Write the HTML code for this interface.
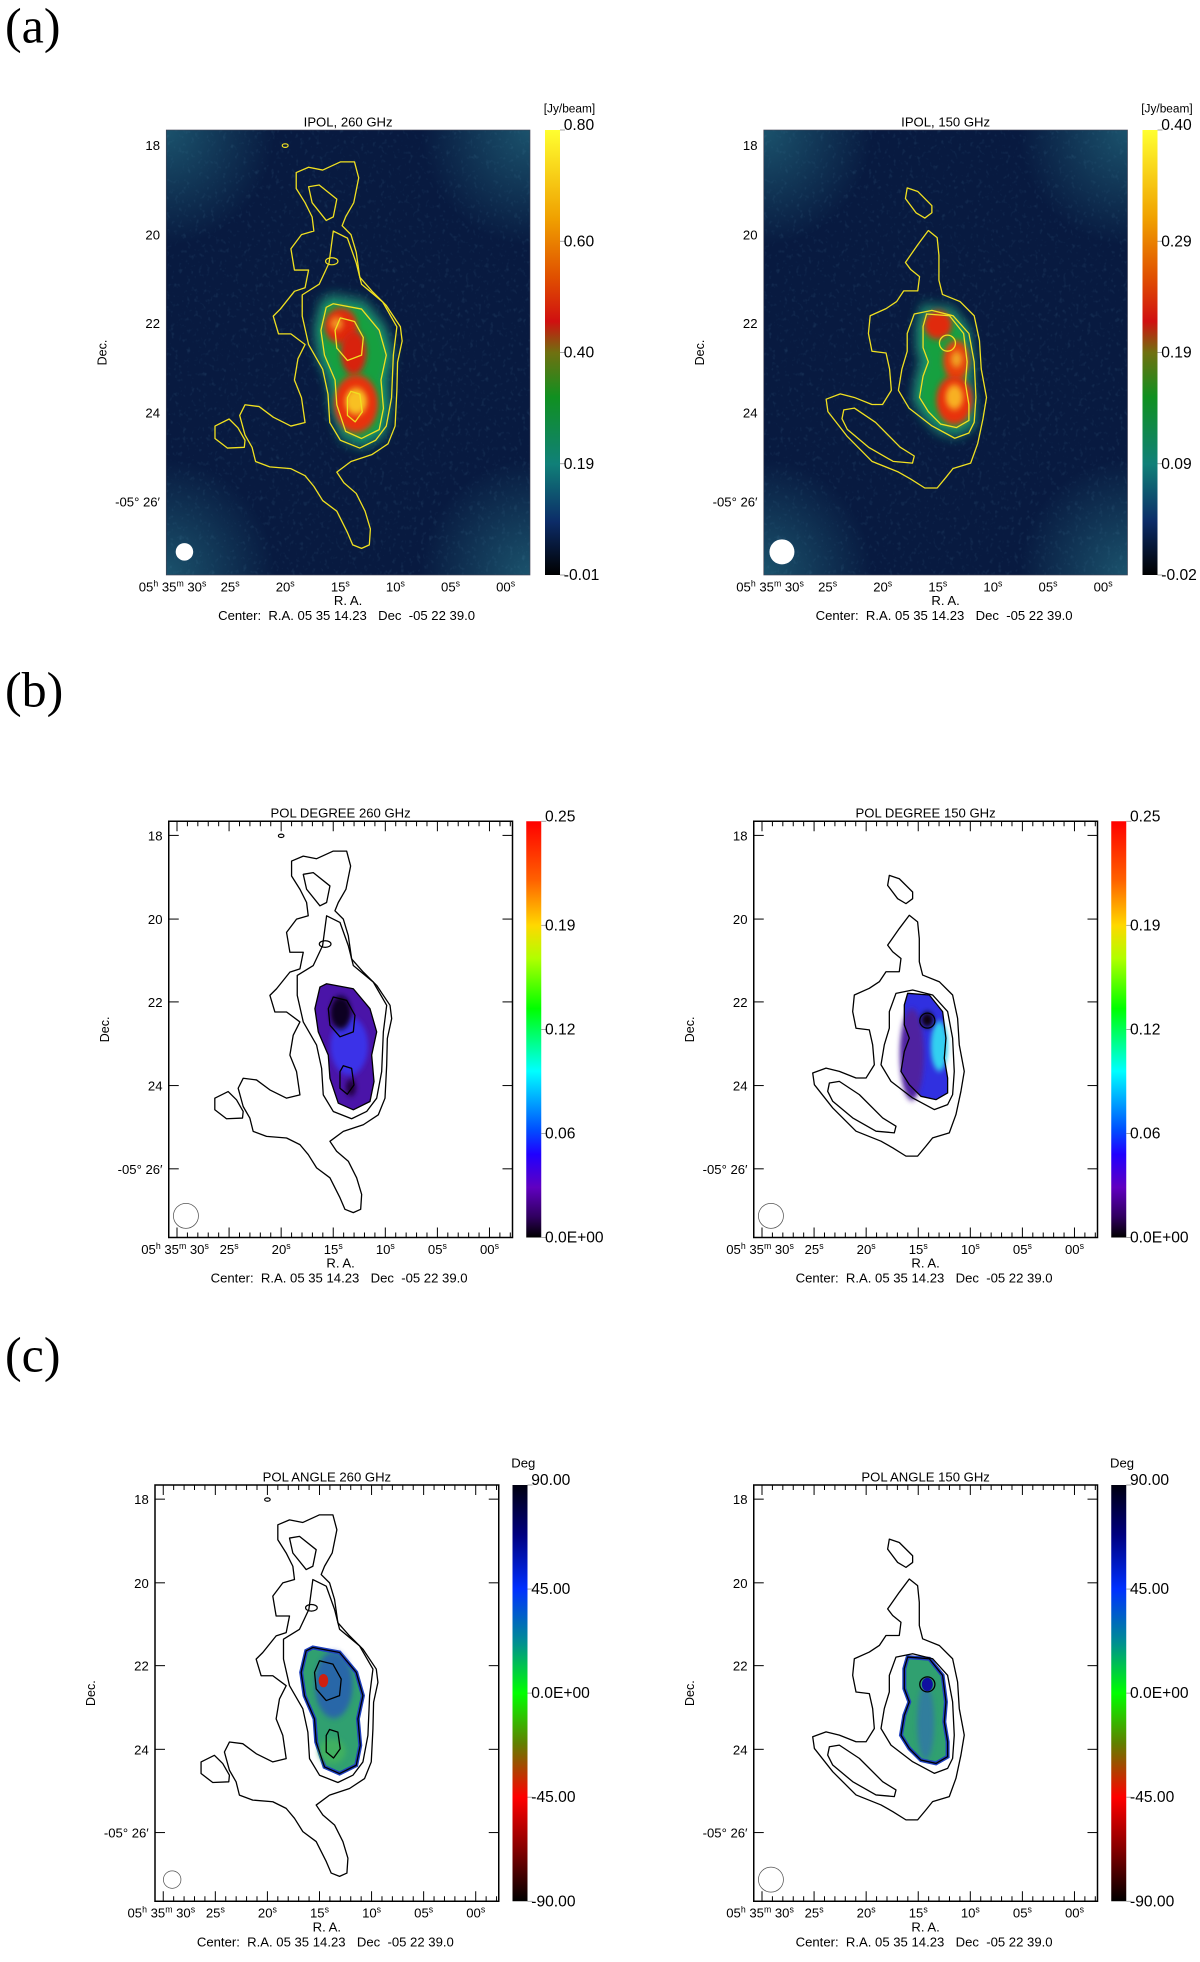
<!DOCTYPE html>
<html><head><meta charset="utf-8"><title>Polarization maps</title>
<style>
html,body{margin:0;padding:0;background:#fff;}
svg{display:block;font-family:"Liberation Sans",Arial,sans-serif;}
</style></head>
<body>
<svg id="fig" xmlns="http://www.w3.org/2000/svg" width="1200" height="1962" viewBox="0 0 960 1569.6">
<defs>
<linearGradient id="cbA" x1="0" y1="0" x2="0" y2="1">
<stop offset="0" stop-color="#ffff30"/><stop offset="0.2" stop-color="#f0a000"/><stop offset="0.33" stop-color="#e05000"/><stop offset="0.43" stop-color="#d01010"/><stop offset="0.5" stop-color="#707010"/><stop offset="0.6" stop-color="#109020"/><stop offset="0.75" stop-color="#108078"/><stop offset="0.88" stop-color="#0c2c68"/><stop offset="1" stop-color="#000000"/>
</linearGradient>
<linearGradient id="cbB" x1="0" y1="0" x2="0" y2="1">
<stop offset="0" stop-color="#ff0000"/><stop offset="0.14" stop-color="#ff6000"/><stop offset="0.25" stop-color="#ffd800"/><stop offset="0.33" stop-color="#b0ff00"/><stop offset="0.45" stop-color="#00ff00"/><stop offset="0.6" stop-color="#00ffff"/><stop offset="0.74" stop-color="#0050ff"/><stop offset="0.8" stop-color="#2000ff"/><stop offset="0.88" stop-color="#6000c0"/><stop offset="0.95" stop-color="#300060"/><stop offset="1" stop-color="#000000"/>
</linearGradient>
<linearGradient id="cbC" x1="0" y1="0" x2="0" y2="1">
<stop offset="0" stop-color="#000010"/><stop offset="0.12" stop-color="#000080"/><stop offset="0.25" stop-color="#0030ff"/><stop offset="0.38" stop-color="#009090"/><stop offset="0.5" stop-color="#00ff00"/><stop offset="0.62" stop-color="#608000"/><stop offset="0.75" stop-color="#ff0000"/><stop offset="0.88" stop-color="#800000"/><stop offset="1" stop-color="#000000"/>
</linearGradient>
<radialGradient id="cornerGlow" cx="0.5" cy="0.5" r="0.5">
<stop offset="0" stop-color="#2a8090" stop-opacity="0.55"/><stop offset="1" stop-color="#2a8090" stop-opacity="0"/>
</radialGradient>
<filter id="blur8" x="-50%" y="-50%" width="200%" height="200%"><feGaussianBlur stdDeviation="14"/></filter>
<filter id="blur4" x="-50%" y="-50%" width="200%" height="200%"><feGaussianBlur stdDeviation="7"/></filter>
<filter id="noise"><feTurbulence type="fractalNoise" baseFrequency="0.09" numOctaves="2" seed="3"/><feColorMatrix values="0 0 0 0 0.1  0 0 0 0 0.3  0 0 0 0 0.45  0 0 0 1.4 -0.8"/></filter>
</defs>

<text x="4" y="34" font-family="Liberation Serif,serif" font-size="40">(a)</text>
<text x="4" y="565" font-family="Liberation Serif,serif" font-size="40">(b)</text>
<text x="4" y="1097" font-family="Liberation Serif,serif" font-size="40">(c)</text>
<g id="panels"></g>
</svg>
<script>
// ---- data ----
const decTickLabels = ['18','20','22','24','-05\u00b0 26\u2032'];
const decTickFrac = [0.034, 0.235, 0.434, 0.635, 0.835];
const raTickLabels = ['30','25','20','15','10','05','00'];
const raFirstFrac = 0.024, raStepFrac = 0.1515;
const cbLabelsIpol260 = ['0.80','0.60','0.40','0.19','-0.01'];
const cbLabelsIpol150 = ['0.40','0.29','0.19','0.09','-0.02'];
const cbLabelsPol = ['0.25','0.19','0.12','0.06','0.0E+00'];
const cbLabelsAng = ['90.00','45.00','0.0E+00','-45.00','-90.00'];

const outer260 = [[575,245],[610,230],[650,238],[700,215],[740,215],[752,260],[738,330],[715,370],[705,395],[730,420],[745,470],[755,540],[790,580],[830,620],[870,680],[875,720],[862,780],[860,860],[855,960],[835,1010],[790,1040],[730,1060],[690,1090],[710,1120],[745,1150],[770,1200],[785,1250],[782,1295],[760,1305],[735,1295],[720,1260],[690,1200],[650,1170],[625,1130],[600,1100],[560,1080],[500,1075],[460,1060],[450,1020],[430,985],[415,930],[430,900],[470,905],[510,935],[560,960],[600,950],[590,880],[570,830],[580,770],[600,730],[560,700],[525,700],[510,650],[530,630],[570,580],[600,570],[610,520],[570,520],[560,460],[590,420],[625,410],[620,370],[600,330],[575,290]];
const hole260 = [[610,285],[640,280],[690,320],[680,370],[660,380],[620,330]];
const arm260 = [[345,960],[385,940],[410,965],[430,1000],[428,1020],[380,1022],[345,995]];
const c2_260 = [[680,410],[720,430],[745,500],[760,560],[820,610],[860,680],[850,760],[845,880],[830,960],[800,1000],[755,1022],[700,1000],[670,950],[665,870],[650,800],[610,730],[592,650],[592,590],[640,560],[668,500]];
const core260 = [[680,615],[760,630],[810,690],[830,760],[815,830],[822,910],[810,970],[760,995],[715,975],[690,900],[685,830],[655,760],[645,690],[660,625]];
const c4_260 = [[700,655],[740,665],[765,710],[760,760],[720,775],[690,740],[685,690]];
const c5_260 = [[730,862],[755,870],[762,920],[742,948],[720,930],[720,880]];
const outer150 = [[630,350],[655,370],[660,420],[660,490],[670,530],[720,550],[760,590],[775,660],[780,740],[795,820],[785,880],[770,950],[750,1005],[700,1020],[680,1045],[655,1075],[620,1075],[580,1050],[545,1030],[470,1000],[400,930],[345,860],[340,825],[380,810],[420,820],[470,840],[500,840],[525,800],[520,740],[510,695],[470,690],[460,640],[465,590],[510,570],[540,550],[560,520],[600,520],[605,480],[580,460],[565,440],[600,390]];
const arm150 = [[390,855],[420,850],[480,890],[550,960],[590,985],[585,1005],[530,1000],[460,960],[400,910],[385,880]];
const c2_150 = [[590,585],[640,575],[700,590],[745,640],[760,720],[765,820],[760,890],[745,920],[705,935],[640,900],[575,850],[545,800],[555,740],[570,690],[570,640]];
const core150 = [[625,585],[690,590],[730,640],[740,720],[735,780],[745,840],[745,885],[710,905],[665,895],[630,860],[605,820],[615,760],[630,720],[615,680],[615,620]];
const top150 = [[570,230],[600,240],[640,280],[640,300],[620,315],[595,300],[565,260]];

const NS = 'http://www.w3.org/2000/svg';
function mk(tag, attrs, parent){const e=document.createElementNS(NS,tag);for(const k in attrs)e.setAttribute(k,attrs[k]);if(parent)parent.appendChild(e);return e;}
function n260(p){return [(p[0]-207)/1030*1000,(p[1]-125)/1255*1000];}
function n150(p){return [(p[0]-163)/1032*1000,(p[1]-67)/1253*1000];}
function pathD(pts,f){return pts.map((p,i)=>{const q=f(p);return (i?'L':'M')+q[0].toFixed(1)+','+q[1].toFixed(1);}).join('')+'Z';}

const panels = [
 {bx:133,by:104,bw:291,bh:356,cbx:436,title:'IPOL, 260 GHz',unit:'[Jy/beam]',cb:'cbA',lab:cbLabelsIpol260,shape:260,mode:'ipol',beam:7,name:'ipol-260'},
 {bx:611,by:104,bw:291,bh:356,cbx:914,title:'IPOL, 150 GHz',unit:'[Jy/beam]',cb:'cbA',lab:cbLabelsIpol150,shape:150,mode:'ipol',beam:10,name:'ipol-150'},
 {bx:135,by:657,bw:275,bh:333,cbx:421,title:'POL DEGREE 260 GHz',unit:'',cb:'cbB',lab:cbLabelsPol,shape:260,mode:'pol',beam:10,name:'pol-degree-260'},
 {bx:603,by:657,bw:275,bh:333,cbx:889,title:'POL DEGREE 150 GHz',unit:'',cb:'cbB',lab:cbLabelsPol,shape:150,mode:'pol',beam:10,name:'pol-degree-150'},
 {bx:124,by:1188,bw:275,bh:333,cbx:410,title:'POL ANGLE 260 GHz',unit:'Deg',cb:'cbC',lab:cbLabelsAng,shape:260,mode:'ang',beam:7,name:'pol-angle-260'},
 {bx:603,by:1188,bw:275,bh:333,cbx:889,title:'POL ANGLE 150 GHz',unit:'Deg',cb:'cbC',lab:cbLabelsAng,shape:150,mode:'ang',beam:10,name:'pol-angle-150'}
];

const root=document.getElementById('panels');
panels.forEach(P=>{
 const g=mk('g',{},root);
 
 
 const f = P.shape===260?n260:n150;
 const ipol = P.mode==='ipol';
 const img=mk('svg',{x:P.bx,y:P.by,width:P.bw,height:P.bh,viewBox:'0 0 1000 1000',preserveAspectRatio:'none'},g);
 
 
 if(ipol){
  mk('rect',{x:0,y:0,width:1000,height:1000,fill:'#081a40'},img);
  [[0,0],[1000,0],[0,1000],[1000,1000]].forEach(c=>mk('ellipse',{cx:c[0],cy:c[1],rx:300,ry:260,fill:'url(#cornerGlow)'},img));
  mk('rect',{x:0,y:0,width:1000,height:1000,filter:'url(#noise)',opacity:0.35},img);
 } else {
  mk('rect',{x:0,y:0,width:1000,height:1000,fill:'#ffffff'},img);
 }
 const core = P.shape===260?core260:core150;
 const coreD = pathD(core,f);
 if(ipol){
  mk('path',{d:coreD,fill:'#1a8a70',stroke:'#1a8a70','stroke-width':40,filter:'url(#blur8)'},img);
  mk('path',{d:coreD,fill:'#18a040',filter:'url(#blur4)'},img);
  const blobs = P.shape===260
   ? [[480,440,45,40,'#e02a10'],[515,500,35,50,'#d82010'],[522,615,60,65,'#e83010'],[522,610,30,30,'#f8c020'],[468,435,18,15,'#f09020']]
   : [[479,438,38,32,'#e02a10'],[529,518,36,45,'#e84010'],[524,607,50,55,'#e83010'],[524,600,24,28,'#f8b020'],[530,515,16,18,'#f0a020']];
  blobs.forEach(b=>mk('ellipse',{cx:b[0],cy:b[1],rx:b[2],ry:b[3],fill:b[4],filter:'url(#blur4)'},img));
 } else if(P.mode==='pol'){
  mk('path',{d:coreD,fill:P.shape===260?'#4a14a8':'#3030e0'},img);
  if(P.shape===260){
   mk('ellipse',{cx:525,cy:540,rx:55,ry:70,fill:'#3a30e8',filter:'url(#blur4)'},img);
   mk('ellipse',{cx:500,cy:460,rx:30,ry:40,fill:'#100020',filter:'url(#blur4)'},img);
   mk('ellipse',{cx:530,cy:640,rx:15,ry:20,fill:'#200040',filter:'url(#blur4)'},img);
  } else {
   mk('ellipse',{cx:460,cy:560,rx:35,ry:110,fill:'#5020a0',filter:'url(#blur4)'},img);
   mk('ellipse',{cx:540,cy:540,rx:25,ry:60,fill:'#30d0f0',filter:'url(#blur4)'},img);
   mk('ellipse',{cx:505,cy:477,rx:18,ry:18,fill:'#100010',filter:'url(#blur4)'},img);
  }
 } else {
  mk('path',{d:coreD,fill:'#30a070',stroke:'#1f40c0','stroke-width':4,'vector-effect':'non-scaling-stroke'},img);
  if(P.shape===260){
   mk('ellipse',{cx:520,cy:480,rx:55,ry:80,fill:'#2850c0',opacity:0.7,filter:'url(#blur4)'},img);
   mk('ellipse',{cx:490,cy:470,rx:14,ry:16,fill:'#d02010'},img);
   mk('ellipse',{cx:515,cy:640,rx:40,ry:30,fill:'#40b060',filter:'url(#blur4)'},img);
  } else {
   mk('ellipse',{cx:500,cy:570,rx:25,ry:90,fill:'#3070b0',opacity:0.7,filter:'url(#blur4)'},img);
   mk('circle',{cx:505,cy:479,r:16,fill:'#1010a0'},img);
  }
 }
 const col = ipol?'#f0e020':'#000000';
 const list = P.shape===260?[outer260,hole260,arm260,c2_260,core260,c4_260,c5_260]:[outer150,arm150,c2_150,core150,top150];
 list.forEach((c,i)=>{
  const p=mk('path',{d:pathD(c,f),fill:'none',stroke:col,'stroke-width':1.3,'vector-effect':'non-scaling-stroke','stroke-linejoin':'round'},img);
  
  
 });
 if(P.shape===260){
  mk('ellipse',{cx:327,cy:35,rx:8,ry:4,fill:'none',stroke:col,'stroke-width':1.2,'vector-effect':'non-scaling-stroke'},img);
  mk('ellipse',{cx:455,cy:295,rx:17,ry:8,fill:'none',stroke:col,'stroke-width':1.2,'vector-effect':'non-scaling-stroke'},img);
 } else {
  mk('ellipse',{cx:505,cy:479,rx:22,ry:18,fill:'none',stroke:col,'stroke-width':1.3,'vector-effect':'non-scaling-stroke'},img);
 }
 const beam=mk('ellipse',{cx:P.bx+0.05*P.bw,cy:P.by+0.948*P.bh,rx:P.beam,ry:P.beam,fill:ipol?'#ffffff':'none',stroke:ipol?'none':'#555','stroke-width':0.6},g);
 
 
 mk('rect',{x:P.bx,y:P.by,width:P.bw,height:P.bh,fill:'none',stroke:ipol?'#445':'#000','stroke-width':ipol?0.5:1.2},g);
 if(!ipol){
  for(let k=-1;k<=33;k++){
   const fr=raFirstFrac+k*raStepFrac/5; if(fr<0.005||fr>0.995) continue;
   const x=P.bx+fr*P.bw, major=(k%5===0), L=major?8:4;
   mk('line',{x1:x,y1:P.by+P.bh,x2:x,y2:P.by+P.bh-L,stroke:'#000','stroke-width':0.8},g);
   mk('line',{x1:x,y1:P.by,x2:x,y2:P.by+L,stroke:'#000','stroke-width':0.8},g);
  }
  decTickFrac.forEach(fr=>{const y=P.by+fr*P.bh;
   mk('line',{x1:P.bx,y1:y,x2:P.bx+8,y2:y,stroke:'#000','stroke-width':0.8},g);
   mk('line',{x1:P.bx+P.bw,y1:y,x2:P.bx+P.bw-8,y2:y,stroke:'#000','stroke-width':0.8},g);});
 }
 const t=mk('text',{x:P.bx+P.bw/2,y:P.by-3,'text-anchor':'middle','font-size':10.5},g); t.textContent=P.title;
 
 
 decTickLabels.forEach((s,i)=>{const tx=mk('text',{x:P.bx-5,y:P.by+decTickFrac[i]*P.bh+4,'text-anchor':'end','font-size':10.5},g);tx.textContent=s;
  
  });
 const dl=mk('text',{x:0,y:0,'text-anchor':'middle','font-size':10,transform:`translate(${P.bx-48},${P.by+0.5*P.bh}) rotate(-90)`},g); dl.textContent='Dec.';
 
 
 raTickLabels.forEach((s,i)=>{
  const x=P.bx+(raFirstFrac+i*raStepFrac)*P.bw;
  const tx=mk('text',{x:i===0?P.bx-22:x,y:P.by+P.bh+13,'text-anchor':i===0?'start':'middle','font-size':10.5},g);
  
  
  if(i===0){
   const parts=[['05',0],['h',1],['\u00a035',2],['m',1],['\u00a0'+s,2],['s',1]];
   parts.forEach(pp=>{const ts=mk('tspan',pp[1]===1?{'font-size':7,dy:-4}:(pp[1]===2?{dy:4}:{}),tx);ts.textContent=pp[0];});
  } else {
   const a=mk('tspan',{},tx);a.textContent=s;const b=mk('tspan',{'font-size':7,dy:-4},tx);b.textContent='s';
  }
 });
 const cx=P.bx+P.bw/2;
 const ra=mk('text',{x:cx,y:P.by+P.bh+24,'text-anchor':'middle','font-size':10.5},g);ra.textContent='R. A.';
 
 
 const ce=mk('text',{x:cx-104,y:P.by+P.bh+36,'font-size':10.5},g);ce.textContent='Center:\u00a0\u00a0R.A. 05 35 14.23';
 
 
 const cd=mk('text',{x:cx+24,y:P.by+P.bh+36,'font-size':10.5},g);cd.textContent='Dec\u00a0\u00a0-05 22 39.0';
 
 
 const cb=mk('rect',{x:P.cbx,y:P.by,width:12,height:P.bh,fill:`url(#${P.cb})`},g);
 
 
 P.lab.forEach((s,i)=>{const y=P.by+i*P.bh/4;
  mk('line',{x1:P.cbx+12,y1:y,x2:P.cbx+16,y2:y,stroke:'#888','stroke-width':0.6},g);
  const tx=mk('text',{x:P.cbx+15,y:y+(i===0?0:4),'font-size':12.5},g);tx.textContent=s;
  
  });
 if(P.unit){const u=mk('text',{x:P.cbx-1,y:P.by-14,'font-size':P.unit==='Deg'?10.5:9.5},g);u.textContent=P.unit;
  
  }
});
</script>
</body></html>
